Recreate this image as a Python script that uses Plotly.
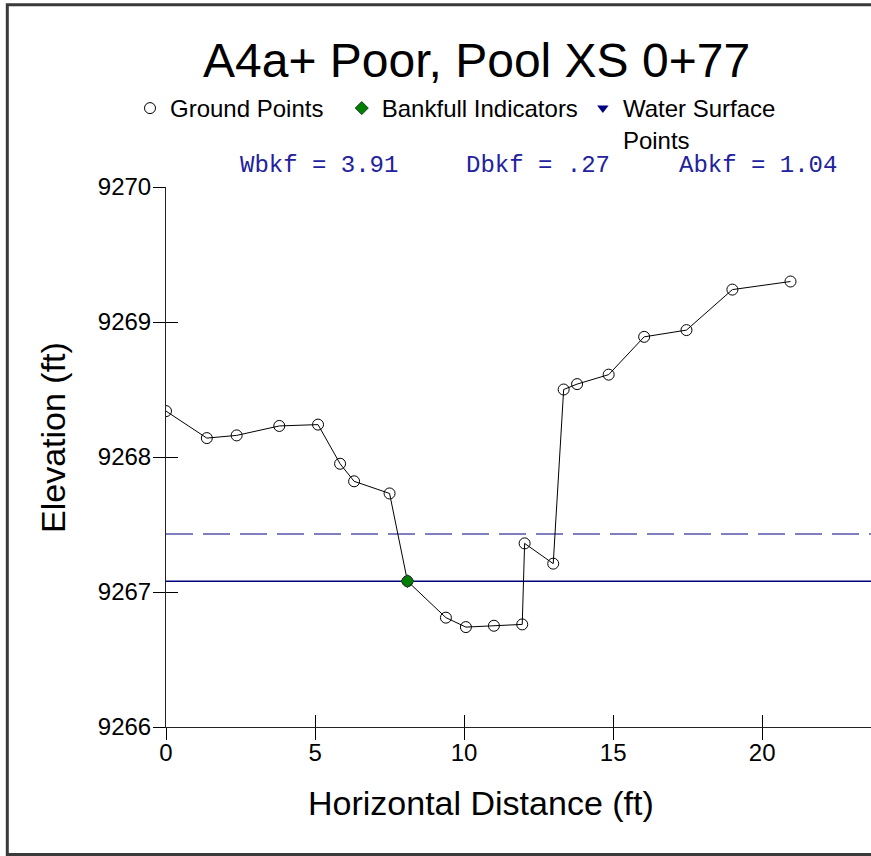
import plotly.graph_objects as go

# ---------------- data ----------------
ground_x = [0, 1.37, 2.37, 3.80, 5.10, 5.84, 6.31, 7.50, 8.10, 9.39, 10.06, 11.00,
            11.95, 12.03, 12.99, 13.34, 13.79, 14.85, 16.04, 17.46, 19.00, 20.95]
ground_y = [9268.34, 9268.14, 9268.16, 9268.23, 9268.24, 9267.95, 9267.82, 9267.73,
            9267.08, 9266.81, 9266.74, 9266.75, 9266.76, 9267.36, 9267.21, 9268.50,
            9268.54, 9268.61, 9268.89, 9268.94, 9269.24, 9269.30]
bankfull_x = [8.10]
bankfull_y = [9267.08]
water_surface_elev = 9267.08
bankfull_elev = 9267.43
wbkf = "3.91"
dbkf = ".27"
abkf = "1.04"
x_range = [0, 23.65]
y_range = [9266, 9270]
x_ticks = [0, 5, 10, 15, 20]
y_ticks = [9266, 9267, 9268, 9269, 9270]

title = "A4a+ Poor, Pool XS 0+77"

# ---------------- layout geometry (pixels) ----------------
W, H = 871, 856
ML, MR, MT, MB = 166, 0, 187, 129
PW = W - ML - MR
PH = H - MT - MB


def px(xp):
    return (xp - ML) / PW


def py(yp):
    return (H - MB - yp) / PH


FONT = "Liberation Sans, Arial, sans-serif"
MONO = "Liberation Mono, Courier New, monospace"

fig = go.Figure()

# reference lines
fig.add_trace(go.Scatter(x=x_range, y=[bankfull_elev, bankfull_elev], mode="lines",
                         line=dict(color="#7f7fc0", width=2, dash="27px,10px"),
                         showlegend=False, hoverinfo="skip"))
fig.add_trace(go.Scatter(x=x_range, y=[water_surface_elev, water_surface_elev], mode="lines",
                         line=dict(color="#000080", width=1.5),
                         showlegend=False, hoverinfo="skip"))
# ground profile line
fig.add_trace(go.Scatter(x=ground_x, y=ground_y, mode="lines",
                         line=dict(color="black", width=1),
                         showlegend=False, hoverinfo="skip"))
# ground points
fig.add_trace(go.Scatter(x=ground_x, y=ground_y, mode="markers",
                         name="Ground Points\u00a0\u00a0",
                         marker=dict(symbol="circle-open", size=11, color="black",
                                     line=dict(width=1, color="black"))))
# bankfull indicators
fig.add_trace(go.Scatter(x=bankfull_x, y=bankfull_y, mode="markers",
                         name="Bankfull Indicators",
                         marker=dict(symbol="diamond", size=10, color="#008000",
                                     line=dict(width=1, color="#1a3a1a"))))
# water surface points (legend only)
fig.add_trace(go.Scatter(x=[None], y=[None], mode="markers",
                         name="Water Surface<br>Points",
                         marker=dict(symbol="triangle-down", size=10, color="#000080")))
# invisible trace for overlay (inside-tick) axes
fig.add_trace(go.Scatter(x=[None], y=[None], xaxis="x2", yaxis="y2",
                         showlegend=False, hoverinfo="skip"))

axis_common = dict(showgrid=False, zeroline=False, tickcolor="black", tickwidth=1,
                   ticklen=12, tickfont=dict(family=FONT, size=24, color="black"))

fig.update_layout(
    width=W, height=H,
    margin=dict(l=ML, r=MR, t=MT, b=MB, pad=0),
    paper_bgcolor="white", plot_bgcolor="white",
    font=dict(family=FONT, color="black"),
    xaxis=dict(range=x_range, tickvals=x_ticks, ticks="outside", showline=True,
               linecolor="#222", linewidth=1, ticklabelstandoff=-8, **axis_common),
    yaxis=dict(range=y_range, tickvals=y_ticks, ticks="outside", showline=True,
               linecolor="#222", linewidth=1, ticklabelstandoff=-3, **axis_common),
    xaxis2=dict(range=x_range, tickvals=x_ticks, ticks="inside", showline=False,
                showticklabels=False, overlaying="x", anchor="y2", side="bottom",
                **axis_common),
    yaxis2=dict(range=y_range, tickvals=y_ticks, ticks="inside", showline=False,
                showticklabels=False, overlaying="y", anchor="x2", side="left",
                **axis_common),
    showlegend=True,
    legend=dict(orientation="h", x=px(130), y=py(86), xanchor="left", yanchor="top",
                font=dict(family=FONT, size=24, color="black"), valign="top",
                bgcolor="rgba(0,0,0,0)", borderwidth=0, traceorder="normal"),
)

annotations = [
    dict(text=title, x=px(476), y=py(60), xref="paper", yref="paper",
         xanchor="center", yanchor="middle", showarrow=False,
         font=dict(family=FONT, size=48, color="black")),
    dict(text=f"Wbkf = {wbkf}", x=px(238), y=py(165), xref="paper", yref="paper",
         xanchor="left", yanchor="middle", showarrow=False,
         font=dict(family=MONO, size=24, color="#22229e")),
    dict(text=f"Dbkf = {dbkf}", x=px(464), y=py(165), xref="paper", yref="paper",
         xanchor="left", yanchor="middle", showarrow=False,
         font=dict(family=MONO, size=24, color="#22229e")),
    dict(text=f"Abkf = {abkf}", x=px(677), y=py(165), xref="paper", yref="paper",
         xanchor="left", yanchor="middle", showarrow=False,
         font=dict(family=MONO, size=24, color="#22229e")),
    dict(text="Elevation (ft)", x=px(53), y=py(438), xref="paper", yref="paper",
         xanchor="center", yanchor="middle", textangle=-90, showarrow=False,
         font=dict(family=FONT, size=34, color="black")),
    dict(text="Horizontal Distance (ft)", x=px(481), y=py(803), xref="paper", yref="paper",
         xanchor="center", yanchor="middle", showarrow=False,
         font=dict(family=FONT, size=34, color="black")),
]
fig.update_layout(annotations=annotations)

# outer frame (left, top and bottom edges; right edge lies outside the picture)
fx0, fx1 = px(7.3), px(W + 60)
fy0, fy1 = py(854.5), py(4.7)
fig.add_shape(type="path", xref="paper", yref="paper",
              path=f"M {fx1},{fy1} L {fx0},{fy1} L {fx0},{fy0} L {fx1},{fy0}",
              line=dict(color="#3a3a3a", width=3), layer="above")

fig.write_html("out.html",
               config={"displayModeBar": False},
               post_script="document.body.style.margin='0';document.body.style.overflow='hidden';")
